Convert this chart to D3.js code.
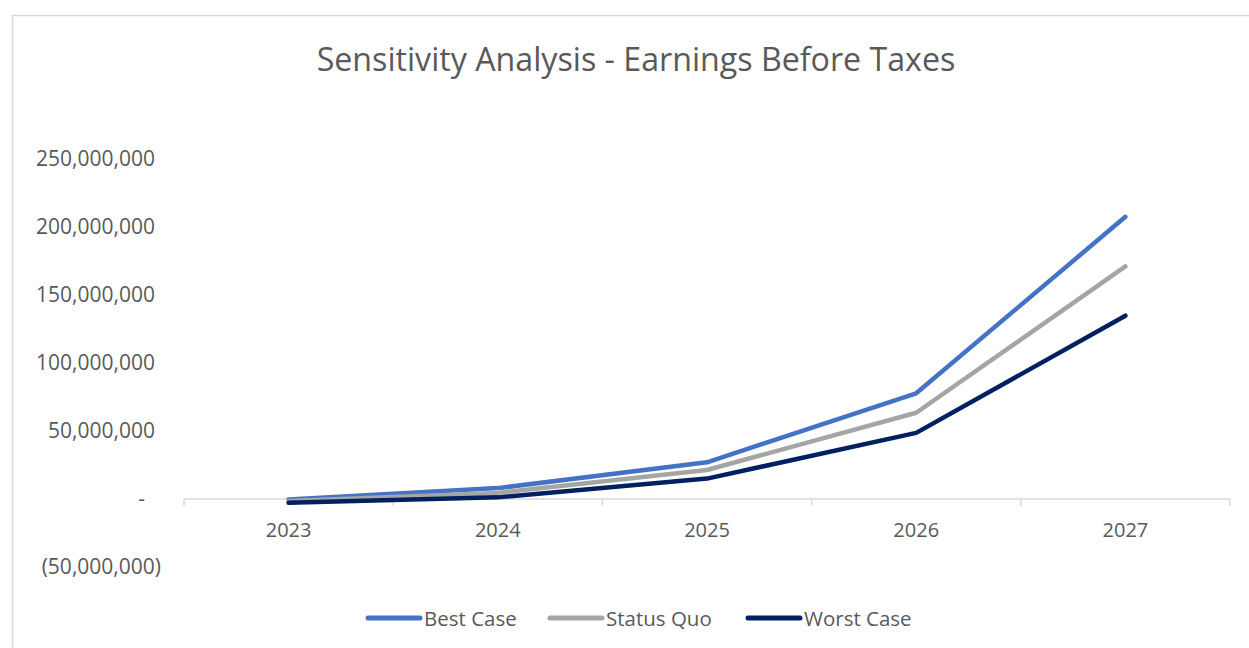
<!DOCTYPE html>
<html>
<head>
<meta charset="utf-8">
<script src="https://cdn.jsdelivr.net/npm/d3@7"></script>
<style>
  html, body { margin: 0; padding: 0; background: #fff; }
  svg { display: block; font-family: "Open Sans", "Noto Sans", sans-serif; }
</style>
</head>
<body>
<svg id="chart" width="1249" height="648"></svg>
<script>
const years = ["2023", "2024", "2025", "2026", "2027"];
const bestCase   = [-300000, 8000000, 27000000, 77700000, 207500000];
const statusQuo  = [-1500000, 4500000, 21300000, 63400000, 171000000];
const worstCase  = [-2800000, 1200000, 15000000, 48600000, 134800000];
const seriesNames = ["Best Case", "Status Quo", "Worst Case"];
const seriesColors = ["#4472C4", "#A5A5A5", "#002060"];
const yTicks = [-50000000, 0, 50000000, 100000000, 150000000, 200000000, 250000000];
const titleText = "Sensitivity Analysis - Earnings Before Taxes";

const series = [bestCase, statusQuo, worstCase];
const svg = d3.select("#chart");
const textColor = "#595959";

// chart border
svg.append("rect")
  .attr("x", 12.5).attr("y", 15.5)
  .attr("width", 1400).attr("height", 800)
  .attr("fill", "#fff").attr("stroke", "#D9D9D9").attr("stroke-width", 1.5);

// title
const title = svg.append("text")
  .attr("x", 636).attr("y", 71)
  .attr("text-anchor", "middle")
  .attr("fill", textColor)
  .style("font-size", "32px")
  .text(titleText);
const tw = title.node().getComputedTextLength();
title.style("font-size", (32 * 639 / tw) + "px");

const x = d3.scaleBand().domain(years).range([184, 1230]).padding(0);
const y = d3.scaleLinear().domain([-50000000, 250000000]).range([567, 159]);

// y axis labels (accounting format)
const fmt = d3.format(",");
const yAxis = svg.append("g").attr("class", "y-axis");
yTicks.forEach(v => {
  let label, xp;
  if (v === 0) { label = "-"; xp = 145; }
  else if (v < 0) { label = "(" + fmt(-v) + ")"; xp = 161; }
  else { label = fmt(v); xp = 155; }
  yAxis.append("text")
    .attr("x", xp).attr("y", y(v) + 7)
    .attr("text-anchor", "end")
    .attr("fill", textColor)
    .style("font-size", "21px")
    .text(label);
});

// x axis
const xAxis = d3.axisBottom(x).tickSize(0).tickPadding(0);
const gx = svg.append("g").attr("transform", `translate(0,${y(0)})`).call(xAxis);
gx.select(".domain").remove();
gx.selectAll("text")
  .attr("y", 38)
  .attr("dy", 0)
  .attr("fill", textColor)
  .style("font-size", "20px")
  .style("font-family", "'Open Sans', sans-serif");
svg.append("line")
  .attr("x1", x.range()[0]).attr("x2", x.range()[1])
  .attr("y1", y(0)).attr("y2", y(0))
  .attr("stroke", "#D9D9D9").attr("stroke-width", 1.5);
const boundaries = years.map(d => x(d)).concat([x.range()[1]]);
svg.selectAll(".xtick").data(boundaries).enter().append("line")
  .attr("x1", d => d).attr("x2", d => d)
  .attr("y1", y(0)).attr("y2", y(0) + 7)
  .attr("stroke", "#D9D9D9").attr("stroke-width", 1.5);

// lines
const line = d3.line()
  .x((d, i) => x(years[i]) + x.bandwidth() / 2)
  .y(d => y(d));
series.forEach((s, i) => {
  svg.append("path")
    .datum(s)
    .attr("d", line)
    .attr("fill", "none")
    .attr("stroke", seriesColors[i])
    .attr("stroke-width", 4.5)
    .attr("stroke-linecap", "round")
    .attr("stroke-linejoin", "round");
});

// legend
const legendX = [366, 548, 746];
const legend = svg.append("g");
seriesNames.forEach((n, i) => {
  legend.append("line")
    .attr("x1", legendX[i] + 2).attr("x2", legendX[i] + 54)
    .attr("y1", 618).attr("y2", 618)
    .attr("stroke", seriesColors[i]).attr("stroke-width", 5)
    .attr("stroke-linecap", "round");
  legend.append("text")
    .attr("x", legendX[i] + 58).attr("y", 625.5)
    .attr("fill", textColor)
    .style("font-size", "20.5px")
    .text(n);
});
</script>
</body>
</html>
